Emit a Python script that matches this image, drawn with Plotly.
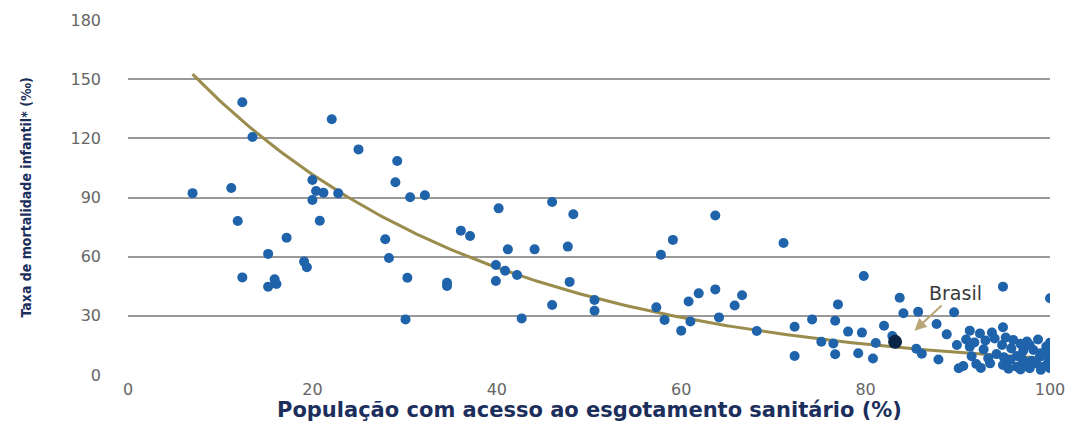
import numpy as np
import plotly.graph_objects as go

# Access to sanitation (% of population) vs infant mortality rate (per thousand)
sanitation = [
    7.0, 11.2, 12.4, 13.5, 11.9, 12.4, 15.2, 15.2, 15.9, 16.1,
    17.2, 19.1, 19.4, 20.0, 20.4, 21.2, 22.8, 20.0, 20.8, 22.1,
    25.0, 29.2, 29.0, 27.9, 28.3, 30.3, 30.1, 30.6, 32.2, 34.6,
    34.6, 36.1, 37.1, 40.2, 39.9, 40.9, 42.2, 39.9, 41.2, 44.1,
    42.7, 46.0, 48.3, 47.7, 47.9, 46.0, 50.6, 50.6, 57.8, 59.1,
    57.3, 58.2, 60.0, 61.0, 60.8, 61.9, 63.7, 63.7, 64.1, 65.8,
    66.6, 68.2, 71.1, 79.8, 77.0, 83.7, 94.9, 100.0, 72.3, 74.2,
    76.7, 72.3, 75.2, 76.5, 76.7, 78.1, 79.6, 79.2, 80.8, 82.0,
    82.9, 81.1, 84.1, 85.7, 87.7, 89.6, 88.8, 85.5, 86.1, 87.9,
    91.3, 92.4, 93.7, 94.9, 98.7, 100.0, 90.9, 89.9, 91.3, 92.8,
    94.8, 95.8, 97.1, 98.2, 99.6, 94.2, 96.4, 98.9, 100.0, 90.6,
    92.0, 93.5, 94.9, 96.4, 97.8, 99.3, 100.0, 98.5, 99.8, 97.2,
    95.7, 90.1, 97.5, 99.0, 100.0, 96.8, 100.0, 91.8, 93.0, 94.0,
    95.2, 96.0, 97.8, 93.3, 95.0, 97.0, 98.0, 99.5, 91.5, 92.5,
    95.5, 96.8, 99.0,
]
mortality = [
    92.2, 94.8, 138.3, 120.7, 78.1, 49.5, 61.4, 44.8, 48.5, 46.1,
    69.6, 57.5, 54.6, 98.9, 93.3, 92.4, 92.1, 88.7, 78.2, 129.7,
    114.4, 108.5, 97.7, 68.8, 59.3, 49.3, 28.2, 90.1, 91.1, 46.8,
    45.1, 73.2, 70.5, 84.5, 55.8, 52.9, 50.7, 47.7, 63.7, 63.7,
    28.7, 87.7, 81.5, 65.1, 47.2, 35.5, 38.0, 32.6, 61.0, 68.5,
    34.3, 27.9, 22.5, 27.1, 37.3, 41.4, 43.4, 80.9, 29.2, 35.2,
    40.4, 22.3, 66.9, 50.2, 35.8, 39.2, 44.8, 38.9, 24.5, 28.2,
    27.5, 9.6, 16.9, 16.0, 10.5, 22.0, 21.5, 11.0, 8.4, 25.0,
    19.8, 16.2, 31.3, 32.1, 25.9, 31.8, 20.6, 13.3, 10.8, 7.9,
    22.5, 21.1, 21.5, 24.2, 18.0, 16.4, 18.0, 15.2, 14.4, 13.0,
    15.2, 13.5, 12.3, 12.7, 14.4, 10.6, 9.6, 9.3, 8.4, 4.6,
    5.6, 5.9, 5.1, 4.2, 3.4, 4.2, 3.5, 5.9, 6.3, 6.5,
    7.6, 3.4, 17.0, 11.0, 12.0, 15.8, 7.5, 16.5, 17.5, 18.5,
    19.0, 17.8, 15.2, 8.5, 9.0, 8.0, 7.2, 10.5, 9.5, 3.6,
    3.2, 2.8, 2.6,
]

# Brazil, highlighted
brasil_x = [83.2]
brasil_y = [16.8]

x_ticks = [0, 20, 40, 60, 80, 100]
y_ticks = [0, 30, 60, 90, 120, 150, 180]

# Exponential trend line y = a * exp(b * x), drawn over the span of the data
trend_a = 189.8
trend_b = -0.0312
all_x = np.array(sanitation + brasil_x)
trend_x = np.linspace(all_x.min(), all_x.max(), 200)
trend_y = trend_a * np.exp(trend_b * trend_x)

AXIS_FONT = "DejaVu Sans, sans-serif"
TITLE_COLOR = "#1c2f5c"

fig = go.Figure()

fig.add_trace(go.Scatter(
    x=trend_x, y=trend_y, mode="lines",
    line=dict(color="#9a8c4c", width=3),
    hoverinfo="skip", showlegend=False,
))

fig.add_trace(go.Scatter(
    x=sanitation, y=mortality, mode="markers",
    marker=dict(color="#1f63ab", size=10, line=dict(width=0)),
    showlegend=False,
))

fig.add_trace(go.Scatter(
    x=brasil_x, y=brasil_y, mode="markers",
    marker=dict(color="#0b2545", size=14, line=dict(width=0)),
    showlegend=False,
))

fig.add_annotation(
    x=85.3, y=22.5, xref="x", yref="y",
    ax=89.7, ay=41.6, axref="x", ayref="y",
    text="Brasil", showarrow=True,
    arrowhead=2, arrowsize=1.2, arrowwidth=2, arrowcolor="#b9a676",
    font=dict(family=AXIS_FONT, size=19, color="#3a3a3a"),
)

# Axis titles
fig.add_annotation(
    x=0.5, y=-0.1352, xref="paper", yref="paper",
    xanchor="center", yanchor="bottom", showarrow=False,
    borderpad=0,
    text="<b>População com acesso ao esgotamento sanitário (%)</b>",
    font=dict(family=AXIS_FONT, size=21, color=TITLE_COLOR),
)
fig.add_annotation(
    x=-0.1117, y=0.5, xref="paper", yref="paper",
    xanchor="center", yanchor="middle", showarrow=False, textangle=-90,
    text="<b>Taxa de mortalidade infantil* (‰)</b>",
    font=dict(family="DejaVu Sans Condensed, DejaVu Sans, sans-serif",
              size=14, color=TITLE_COLOR),
)

fig.update_layout(
    width=1074, height=423,
    margin=dict(l=128, r=24, t=20, b=48),
    paper_bgcolor="white", plot_bgcolor="white",
    xaxis=dict(
        range=[0, 100], tickvals=x_ticks, showgrid=False, zeroline=False,
        showline=False, ticks="", ticklabelstandoff=3, automargin=False,
        tickfont=dict(family=AXIS_FONT, size=16, color="#666666"),
    ),
    yaxis=dict(
        range=[0, 180], tickvals=y_ticks, showgrid=True,
        gridcolor="#999999", gridwidth=1.6, zeroline=False,
        showline=False, ticks="", ticklabelstandoff=26, automargin=False,
        tickfont=dict(family=AXIS_FONT, size=16, color="#666666"),
    ),
)

fig.write_html("out.html")
